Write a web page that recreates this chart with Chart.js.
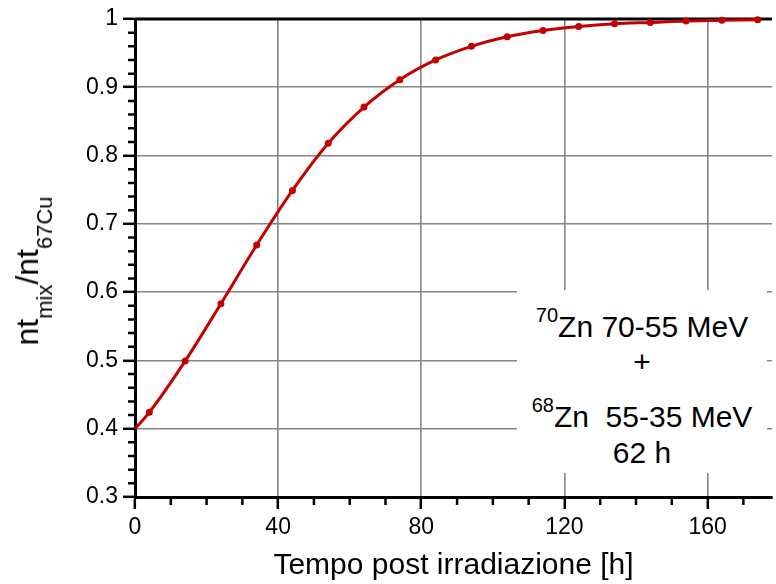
<!DOCTYPE html>
<html>
<head>
<meta charset="utf-8">
<title>nt mix / nt 67Cu</title>
<script src="https://cdn.jsdelivr.net/npm/chart.js@4.4.1/dist/chart.umd.min.js"></script>
<style>
  body { margin: 0; background: #fff; font-family: "Liberation Sans", Arial, sans-serif; }
  #wrap { position: relative; width: 776px; height: 584px; }
  #ytitle {
    position: absolute; left: 28px; top: 271px;
    transform: translate(-50%, -50%) rotate(-90deg);
    font-size: 32px; line-height: 32px; white-space: nowrap; color: #000;
  }
  #ytitle .sub { font-size: 22px; line-height: 0; vertical-align: -14px; }
  #note { position: absolute; left: 517px; top: 290px; width: 250px; height: 183px; background: #fff; }
  #note .ln {
    position: absolute; left: 0; width: 250px; text-align: center;
    font-size: 30px; line-height: 30px; white-space: pre; color: #000;
  }
  #note sup { font-size: 20px; line-height: 0; vertical-align: 15px; }
</style>
</head>
<body>
<div id="wrap">
  <canvas id="chart" width="776" height="584"></canvas>
  <div id="ytitle">nt<span class="sub">mix</span>/nt<span class="sub">67Cu</span></div>
  <div id="note">
    <div class="ln" style="top:22px"><sup>70</sup>Zn 70-55 MeV</div>
    <div class="ln" style="top:57px">+</div>
    <div class="ln" style="top:112px"><sup>68</sup>Zn  55-35 MeV</div>
    <div class="ln" style="top:148px">62 h</div>
  </div>
</div>
<script>
// ore dopo l'irraggiamento e rapporto nt_mix / nt_67Cu
var hours = [0, 4, 14, 24, 34, 44, 54, 64, 74, 84, 94, 104, 114, 124, 134, 144, 154, 164, 174];
var ratio = [0.400, 0.424, 0.499, 0.583, 0.669, 0.749, 0.818, 0.871, 0.911, 0.940, 0.960,
             0.974, 0.983, 0.989, 0.993, 0.995, 0.997, 0.998, 0.999];

var xTicks = [0, 40, 80, 120, 160];
var yTicks = [0.3, 0.4, 0.5, 0.6, 0.7, 0.8, 0.9, 1];

var lineColor = '#c40000';

// linea nera in alto e tacche secondarie sugli assi
var axisExtras = {
    id: 'axisExtras',
    beforeDatasetsDraw: function (chart) {
        var ctx = chart.ctx, a = chart.chartArea;
        ctx.save();
        ctx.strokeStyle = '#000';
        ctx.lineWidth = 3;
        ctx.beginPath();
        ctx.moveTo(a.left, a.top);
        ctx.lineTo(a.right, a.top);
        ctx.stroke();
        ctx.restore();
    },
    afterDraw: function (chart) {
        var ctx = chart.ctx, a = chart.chartArea;
        var x = chart.scales.x, y = chart.scales.y;
        ctx.save();
        ctx.strokeStyle = '#000';
        ctx.lineWidth = 2.5;
        ctx.beginPath();
        for (var v = 10; v <= x.max; v += 10) {
            if (v % 40 === 0) continue;
            var px = x.getPixelForValue(v);
            ctx.moveTo(px, a.bottom);
            ctx.lineTo(px, a.bottom + 8);
        }
        for (var i = 1; i < 35; i++) {
            if (i % 5 === 0) continue;
            var py = y.getPixelForValue(0.3 + i * 0.02);
            ctx.moveTo(a.left - 7, py);
            ctx.lineTo(a.left, py);
        }
        ctx.stroke();
        ctx.restore();
    }
};

var points = [];
for (var i = 0; i < hours.length; i++) {
    points.push({ x: hours[i], y: ratio[i] });
}

var config = {
    type: 'line',
    data: {
        datasets: [{
            data: points,
            borderColor: lineColor,
            backgroundColor: lineColor,
            borderWidth: 3,
            pointRadius: function (c) { return c.dataIndex === 0 ? 0 : 3.5; },
            pointBorderWidth: 0,
            cubicInterpolationMode: 'monotone',
            clip: false
        }]
    },
    options: {
        responsive: false,
        animation: false,
        layout: { padding: { top: 19, right: 0, bottom: 0, left: 0 } },
        plugins: {
            legend: { display: false },
            tooltip: { enabled: false }
        },
        scales: {
            x: {
                type: 'linear',
                min: 0,
                max: 178,
                afterBuildTicks: function (axis) {
                    axis.ticks = xTicks.map(function (v) { return { value: v }; });
                },
                afterFit: function (axis) { axis.height = 87; },
                ticks: {
                    color: '#000',
                    padding: 5,
                    maxRotation: 0,
                    font: { family: 'Liberation Sans', size: 23 }
                },
                grid: {
                    color: '#848484',
                    lineWidth: 1.6,
                    tickColor: '#000',
                    tickWidth: 2.5,
                    tickLength: 12
                },
                border: { color: '#000', width: 3 },
                title: {
                    display: true,
                    text: 'Tempo post irradiazione [h]',
                    color: '#000',
                    padding: { top: 0, bottom: 0 },
                    font: { family: 'Liberation Sans', size: 30 }
                }
            },
            y: {
                min: 0.3,
                max: 1,
                afterBuildTicks: function (axis) {
                    axis.ticks = yTicks.map(function (v) { return { value: v }; });
                },
                afterFit: function (axis) { axis.width = 135; },
                ticks: {
                    color: '#000',
                    padding: 5,
                    font: { family: 'Liberation Sans', size: 23 },
                    callback: function (v) { return String(+(+v).toFixed(1)); }
                },
                grid: {
                    color: '#848484',
                    lineWidth: 1.6,
                    tickColor: '#000',
                    tickWidth: 2.5,
                    tickLength: 12
                },
                border: { color: '#000', width: 3 }
            }
        }
    },
    plugins: [axisExtras]
};

var myLine = new Chart(document.getElementById('chart').getContext('2d'), config);
</script>
</body>
</html>
